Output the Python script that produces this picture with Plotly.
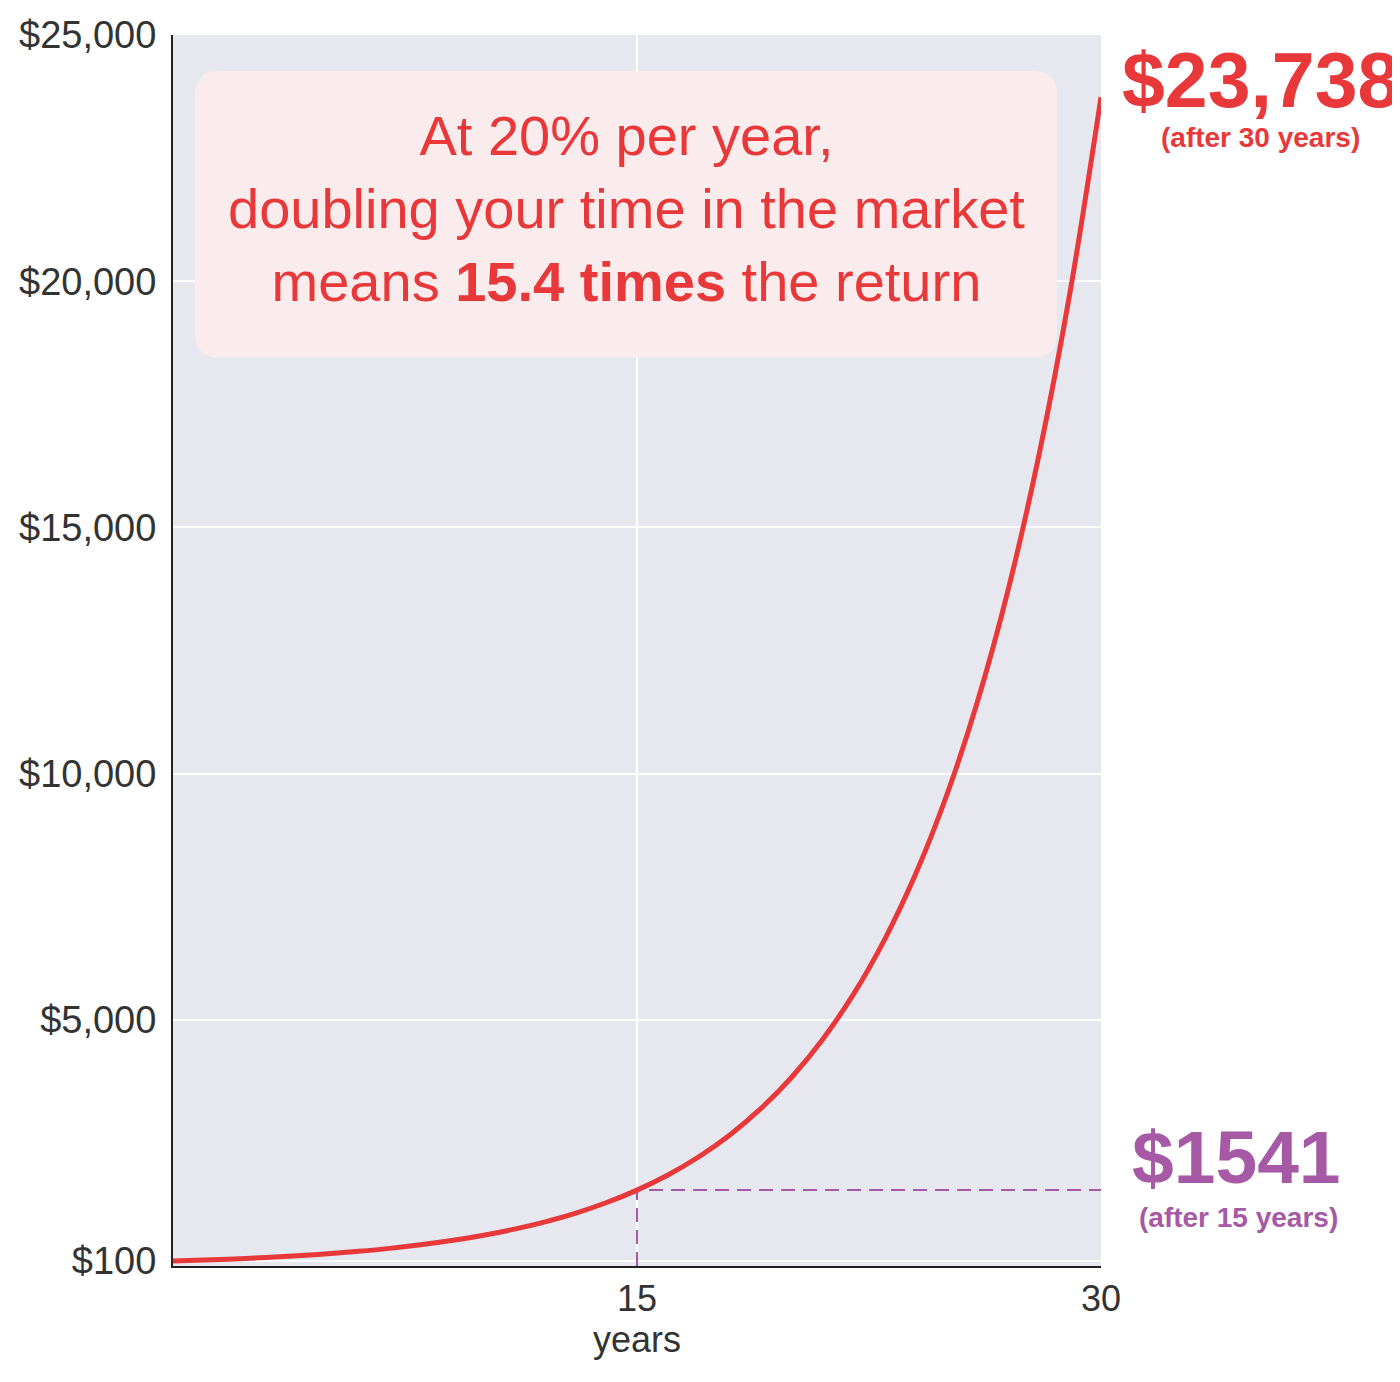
import plotly.graph_objects as go

# yearly balance (starting at $100)
years = list(range(31))
balance = [100, 120, 144, 173, 207, 249, 299, 358, 430, 516,
           619, 743, 892, 1070, 1284, 1541, 1849, 2219, 2662, 3195,
           3834, 4601, 5521, 6625, 7950, 9540, 11448, 13737, 16484, 19781,
           23738]

y_ticks = [100, 5000, 10000, 15000, 20000, 25000]
y_tick_text = ['$100', '$5,000', '$10,000', '$15,000', '$20,000', '$25,000']
x_ticks = [15, 30]

mid_year = 15
mid_value = 1541
end_year = 30
end_value = 23738

RED = '#E8383A'
PURPLE = '#A659A4'
FONT = 'Liberation Sans, Arial, Helvetica, sans-serif'

# page offset from the html body margin
OFF = 8
W, H = 1400, 1382
L, R, T, B = 173 - OFF, 299 + OFF, 35 - OFF, 116 + OFF

fig = go.Figure()

# dashed guide lines at 15 years
fig.add_trace(go.Scatter(
    x=[mid_year, mid_year, end_year],
    y=[0, mid_value, mid_value],
    mode='lines',
    line=dict(color=PURPLE, width=2, dash='14px,8px'),
    hoverinfo='skip'
))

fig.add_trace(go.Scatter(
    x=years, y=balance,
    mode='lines',
    line=dict(color=RED, width=5, shape='spline'),
    name='balance'
))

# rounded box behind the headline (data coords)
x0, x1, y0, y1 = 0.71, 28.58, 18450, 24270
rx, ry = 0.8, 510
box_path = (f'M {x0+rx},{y1} L {x1-rx},{y1} Q {x1},{y1} {x1},{y1-ry} '
            f'L {x1},{y0+ry} Q {x1},{y0} {x1-rx},{y0} '
            f'L {x0+rx},{y0} Q {x0},{y0} {x0},{y0+ry} '
            f'L {x0},{y1-ry} Q {x0},{y1} {x0+rx},{y1} Z')
fig.add_shape(type='path', path=box_path, xref='x', yref='y',
              fillcolor='#FAECEC', line=dict(width=0), layer='above')

fig.add_annotation(
    x=(x0 + x1) / 2, y=(y0 + y1) / 2 + 120, xref='x', yref='y',
    text='At 20% per year,<br>doubling your time in the market<br>means <b>15.4 times</b> the return',
    showarrow=False, align='center',
    font=dict(family=FONT, size=56, color=RED)
)

# end labels on the right (page pixel positions)
side_labels = [
    (1261, 80, '<b>$23,738</b>', 77, RED),
    (1260, 138, '<b>(after 30 years)</b>', 28, RED),
    (1236, 1157, '<b>$1541</b>', 75, PURPLE),
    (1238, 1217, '<b>(after 15 years)</b>', 28, PURPLE),
]
for px, py, txt, size, col in side_labels:
    fig.add_annotation(
        x=(px - OFF - L) / (W - L - R), y=1 - (py - OFF - T) / (H - T - B),
        xref='paper', yref='paper', xanchor='center', yanchor='middle',
        text=txt, showarrow=False, font=dict(family=FONT, size=size, color=col)
    )

fig.update_xaxes(
    range=[0, 30],
    tickvals=x_ticks,
    tickfont=dict(family=FONT, size=36, color='#333333'),
    showgrid=True, gridcolor='white', gridwidth=1.5,
    showline=True, linecolor='#222222', linewidth=2,
    ticks='', zeroline=False,
    title=dict(text='years', font=dict(family=FONT, size=36, color='#333333'), standoff=4)
)
fig.update_yaxes(
    range=[0, 25000],
    tickvals=y_ticks, ticktext=y_tick_text,
    tickfont=dict(family=FONT, size=38, color='#333333'),
    showgrid=True, gridcolor='white', gridwidth=1.5,
    showline=True, linecolor='#222222', linewidth=2,
    ticks='outside', ticklen=7, tickcolor='rgba(0,0,0,0)',
    zeroline=False, automargin=False
)

fig.update_layout(
    width=W, height=H,
    margin=dict(l=L, r=R, t=T, b=B),
    paper_bgcolor='white',
    plot_bgcolor='#E7E7EF',
    showlegend=False,
    font=dict(family=FONT)
)

fig.write_html('out.html')
